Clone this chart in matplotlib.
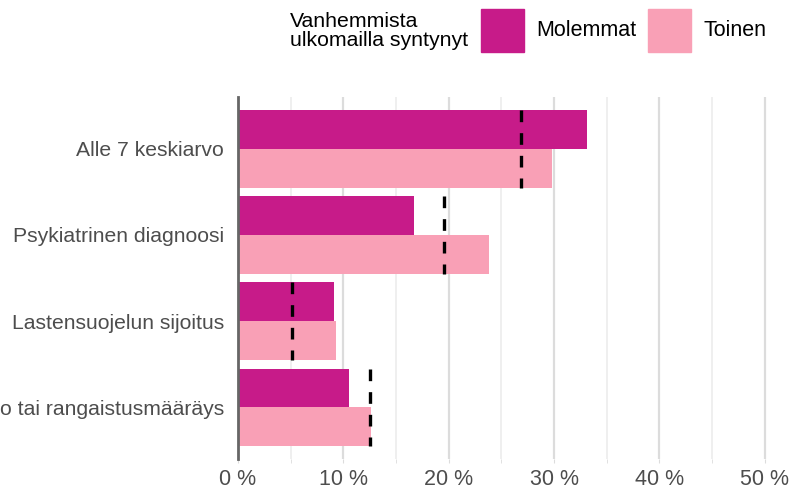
import matplotlib.pyplot as plt
import numpy as np
from matplotlib.patches import Rectangle

plt.rcParams['font.family'] = ['Liberation Sans', 'DejaVu Sans']

# data
categories = ["Alle 7 keskiarvo", "Psykiatrinen diagnoosi",
              "Lastensuojelun sijoitus", "Tuomio tai rangaistusmääräys"]
molemmat = [33.1, 16.7, 9.1, 10.5]
toinen = [29.8, 23.8, 9.3, 12.6]
vertailu = [26.9, 19.6, 5.1, 12.5]   # dashed reference lines
xticks = [0, 10, 20, 30, 40, 50]

col_mol = "#C71B89"
col_toi = "#F9A0B6"

fig = plt.figure(figsize=(7.91, 4.92), dpi=100)
ax = fig.add_axes([238 / 791, 1 - 459 / 492, 1 - 238 / 791, (459 - 97) / 492])

y = np.arange(len(categories))
h = 0.45
ax.barh(y - h / 2, molemmat, height=h, color=col_mol, zorder=2)
ax.barh(y + h / 2, toinen, height=h, color=col_toi, zorder=2)
for yi, v in zip(y, vertailu):
    ax.plot([v, v], [yi - h, yi + h], color="black", lw=2.4,
            ls=(0, (3.5, 3.3)), zorder=3, solid_capstyle="butt")

ax.set_ylim(3.6, -0.6)
ax.set_xlim(0, 52.5)
ax.set_yticks(y)
ax.set_yticklabels(categories, fontsize=15.2, color="#4d4d4d")
ax.set_xticks(xticks)
ax.set_xticklabels([f"{t} %" for t in xticks], fontsize=15.5, color="#4d4d4d")
ax.set_xticks(np.arange(5, 51, 10), minor=True)
ax.grid(axis="x", which="major", color="#dcdcdc", lw=1.6, zorder=0)
ax.grid(axis="x", which="minor", color="#ececec", lw=1.2, zorder=0)
ax.tick_params(axis="y", length=0, pad=10)
ax.tick_params(axis="x", which="both", length=3, color="#dcdcdc", pad=4)
for s in ["top", "right", "bottom"]:
    ax.spines[s].set_visible(False)
ax.spines["left"].set_color("#666666")
ax.spines["left"].set_linewidth(2)
ax.spines["left"].set_zorder(4)

# legend drawn at the top
W, H = 791, 492
fig.text(290 / W, 1 - 31 / H, "Vanhemmista\nulkomailla syntynyt", fontsize=15.3,
         va="center", ha="left", linespacing=1.0)
fig.patches.append(Rectangle((481 / W, 1 - 52 / H), 43 / W, 43 / H,
                             transform=fig.transFigure, color=col_mol))
fig.text(536 / W, 1 - 31 / H, "Molemmat", fontsize=15.5, va="center")
fig.patches.append(Rectangle((648 / W, 1 - 52 / H), 43 / W, 43 / H,
                             transform=fig.transFigure, color=col_toi))
fig.text(703 / W, 1 - 31 / H, "Toinen", fontsize=15.5, va="center")

fig.savefig("out.png", dpi=100)
